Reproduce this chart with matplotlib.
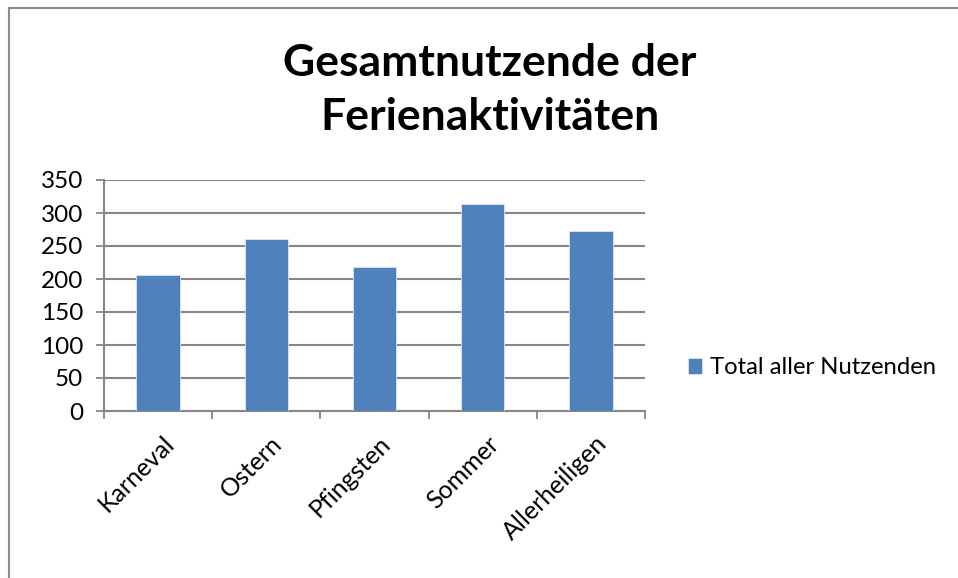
import matplotlib.pyplot as plt
from matplotlib.lines import Line2D

categories = ["Karneval", "Ostern", "Pfingsten", "Sommer", "Allerheiligen"]
totals = [206, 261, 218, 313, 272]
series_name = "Total aller Nutzenden"
y_ticks = [0, 50, 100, 150, 200, 250, 300, 350]

bar_color = "#4F81BD"
grid_color = "#868686"

plt.rcParams["font.family"] = ["Lato", "DejaVu Sans"]

fig = plt.figure(figsize=(9.58, 5.78), dpi=100)
ax = fig.add_axes([104 / 958, 1 - 411 / 578, (645 - 104) / 958, (411 - 180) / 578])

x = list(range(len(categories)))
ax.bar(x, totals, width=0.4, color=bar_color, edgecolor="#DCE6F2",
       linewidth=0.6, zorder=3, label=series_name)

ax.set_xlim(-0.5, len(categories) - 0.5)
ax.set_ylim(0, 350)
ax.set_yticks(y_ticks)
ax.set_yticklabels([str(v) for v in y_ticks], fontsize=17.5)
ax.yaxis.grid(True, color=grid_color, linewidth=1.5, zorder=0)
ax.tick_params(axis="y", length=6, width=1.3, color=grid_color, pad=9)

# Kategorie-Trennstriche statt Ticks in der Mitte
ax.set_xticks([i - 0.5 for i in range(len(categories) + 1)])
ax.set_xticklabels([])
ax.tick_params(axis="x", length=6, width=1.3, color=grid_color)
for i, name in enumerate(categories):
    ax.annotate(name, xy=(i, 0), xycoords=("data", "axes fraction"),
                xytext=(3, -15), textcoords="offset points",
                rotation=45, ha="right", va="top", rotation_mode="anchor",
                fontsize=18)

for side in ["top", "right"]:
    ax.spines[side].set_visible(False)
for side in ["left", "bottom"]:
    ax.spines[side].set_color(grid_color)
    ax.spines[side].set_linewidth(1.5)

fig.text(490 / 958, 1 - 90 / 578, "Gesamtnutzende der\nFerienaktivitäten",
         ha="center", va="center", fontsize=32, fontweight="bold",
         linespacing=1.4)

ax.legend(loc="center left", bbox_to_anchor=(666 / 958, 1 - 368 / 578),
          bbox_transform=fig.transFigure, frameon=False, fontsize=17.2,
          handlelength=0.6, handleheight=0.6, handletextpad=0.35)

# Rahmen des Diagrammbereichs (oben und links sichtbar)
fig.add_artist(Line2D([9 / 958, 9 / 958], [0, 1 - 8 / 578], color="#8C8C8C",
                      linewidth=1.5, transform=fig.transFigure))
fig.add_artist(Line2D([9 / 958, 1], [1 - 8 / 578, 1 - 8 / 578], color="#8C8C8C",
                      linewidth=1.5, transform=fig.transFigure))

fig.savefig("out.png", dpi=100)
